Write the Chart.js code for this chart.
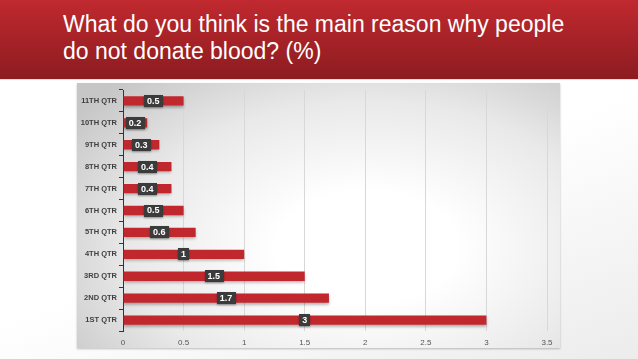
<!DOCTYPE html>
<html>
<head>
<meta charset="utf-8">
<script src="https://cdn.jsdelivr.net/npm/chart.js@4"></script>
<style>
    html, body { margin: 0; padding: 0; }
    body {
        width: 638px; height: 359px; overflow: hidden; position: relative;
        background: linear-gradient(160deg, #ffffff 55%, #ececec 100%);
        font-family: 'Liberation Sans Narrow', 'Liberation Sans', sans-serif;
    }
    .header {
        position: absolute; left: 0; top: 0; width: 638px; height: 79px;
        background: linear-gradient(#c0292f, #8c1c20);
        border-bottom: 1px solid #f3d6d8;
    }
    .header h1 {
        margin: 0; position: absolute; left: 63px; top: 11px;
        color: #fff; font-weight: normal; font-size: 23px; line-height: 27px;
    }
    .box {
        position: absolute; left: 77px; top: 83px; width: 483px; height: 265px;
        background: radial-gradient(ellipse 75% 85% at 60% 62%, #ffffff 25%, #e9e9e9 65%, #c6c6c6 100%);
        box-shadow: 0 1px 2px rgba(0,0,0,0.25);
    }
    canvas { display: block; }
</style>
</head>
<body>
<div class="header"><h1>What do you think is the main reason why people<br>do not donate blood? (%)</h1></div>
<div class="box"><canvas id="chart" width="483" height="265"></canvas></div>
<script>
const categories = [
    '1ST QTR', '2ND QTR', '3RD QTR', '4TH QTR', '5TH QTR', '6TH QTR',
    '7TH QTR', '8TH QTR', '9TH QTR', '10TH QTR', '11TH QTR'
];
const values = [3, 1.7, 1.5, 1, 0.6, 0.5, 0.4, 0.4, 0.3, 0.2, 0.5];
const xTicks = [0, 0.5, 1, 1.5, 2, 2.5, 3, 3.5];

const fontFamily = "'Liberation Sans Narrow', 'Liberation Sans', sans-serif";

// shadow under bars + dark value boxes in the middle of each bar
const barDecor = {
    id: 'barDecor',
    beforeDatasetsDraw(chart) {
        const ctx = chart.ctx;
        ctx.save();
        ctx.shadowColor = 'rgba(0,0,0,0.3)';
        ctx.shadowBlur = 3;
        ctx.shadowOffsetY = 2;
    },
    afterDatasetsDraw(chart) {
        const ctx = chart.ctx;
        ctx.restore();
        const meta = chart.getDatasetMeta(0);
        const xs = chart.scales.x;
        ctx.save();
        ctx.font = "bold 9px 'Liberation Sans', sans-serif";
        ctx.textAlign = 'center';
        ctx.textBaseline = 'middle';
        meta.data.forEach((bar, i) => {
            const v = values[i];
            const cx = xs.getPixelForValue(v / 2);
            const cy = bar.y;
            const text = String(v);
            const w = ctx.measureText(text).width + 6;
            const h = 12;
            ctx.shadowColor = 'rgba(0,0,0,0.35)';
            ctx.shadowBlur = 2;
            ctx.shadowOffsetY = 1;
            ctx.fillStyle = '#3b3b3b';
            ctx.fillRect(Math.round(cx - w / 2), Math.round(cy - h / 2), Math.round(w), h);
            ctx.shadowColor = 'transparent';
            ctx.fillStyle = '#ffffff';
            ctx.fillText(text, cx, cy + 0.5);
        });
        ctx.restore();
    }
};

new Chart(document.getElementById('chart'), {
    type: 'bar',
    data: {
        labels: categories,
        datasets: [{
            data: values,
            backgroundColor: '#c0282e',
            borderWidth: 0,
            barPercentage: 0.5,
            categoryPercentage: 0.85
        }]
    },
    options: {
        indexAxis: 'y',
        responsive: false,
        animation: false,
        layout: { padding: { top: 7, right: 13, left: 0, bottom: 0 } },
        plugins: {
            legend: { display: false },
            tooltip: { enabled: false }
        },
        scales: {
            x: {
                min: 0,
                max: 3.5,
                afterBuildTicks: s => { s.ticks = xTicks.map(v => ({ value: v })); },
                afterFit: s => { s.height = 17; },
                grid: { color: '#d8d8d8', drawTicks: false, lineWidth: 1 },
                border: { display: false },
                ticks: {
                    padding: 7,
                    color: '#555',
                    font: { family: fontFamily, size: 8 },
                    callback: v => String(v)
                }
            },
            y: {
                reverse: true,
                afterFit: s => { s.width = 46; },
                grid: { drawOnChartArea: false, tickLength: 4, color: '#333', offset: true },
                border: { color: '#333', width: 1 },
                ticks: {
                    padding: 2,
                    color: '#404040',
                    font: { family: fontFamily, size: 7.5, weight: 'bold' }
                }
            }
        }
    },
    plugins: [barDecor]
});
</script>
</body>
</html>
